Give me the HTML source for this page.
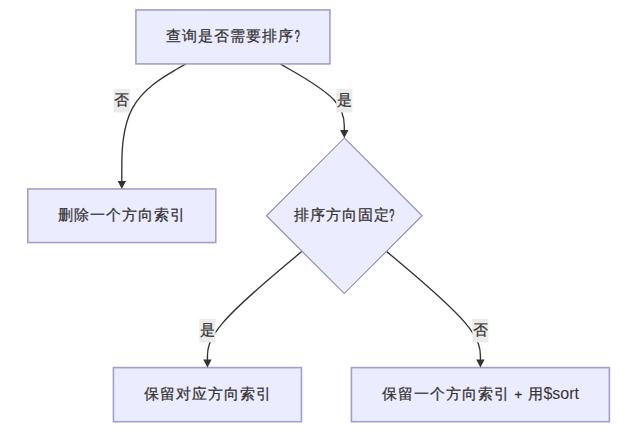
<!DOCTYPE html>
<html><head><meta charset="utf-8">
<style>
html,body{margin:0;padding:0;background:#fff;width:624px;height:434px;overflow:hidden}
svg{display:block}
.nd{fill:#ECECFF;stroke:#a39fc8;stroke-width:1.6}
.dm{stroke:#928cb9;stroke-width:1.15}
.ed{fill:none;stroke:#333;stroke-width:1.35}
.ar{fill:#333;stroke:none}
.lb{fill:#ebebeb}
.tx{font-family:"Liberation Sans",sans-serif;font-size:15.40px;fill:#333;stroke:#333;stroke-width:0.25}
.q{font-size:16.2px;stroke-width:0.5}
.pl{font-size:13px;text-anchor:middle;stroke-width:0.35}
.lt{font-size:16px;stroke-width:0}
.lbt{text-anchor:middle}
</style></head><body>
<svg width="624" height="434" viewBox="0 0 624 434">
<path d="M185.88,63.90 L175.20,70.03 C164.52,76.17 143.16,88.43 132.48,108.10 C121.80,127.77 121.80,154.83 121.80,168.37 L121.80,181.90" class="ed"/>
<path d="M280.12,63.90 L290.82,70.02 C301.51,76.13 322.91,88.37 333.60,99.53 C344.30,110.70 344.30,120.80 344.30,125.85 L344.30,130.90" class="ed"/>
<path d="M302.00,251.25 L286.24,264.47 C270.48,277.70 238.97,304.15 223.21,322.37 C207.45,340.60 207.45,350.60 207.45,355.60 L207.45,360.60" class="ed"/>
<path d="M386.49,251.36 L402.14,264.56 C417.80,277.77 449.10,304.19 464.75,322.39 C480.40,340.60 480.40,350.60 480.40,355.60 L480.40,360.60" class="ed"/>
<rect x="135.90" y="9.90" width="194.00" height="54.00" class="nd"/>
<rect x="27.80" y="188.95" width="188.00" height="53.60" class="nd"/>
<path d="M344.30,137.95 L422.10,215.75 L344.30,293.55 L266.50,215.75 Z" class="nd dm"/>
<rect x="113.45" y="367.60" width="188.00" height="54.10" class="nd"/>
<rect x="351.40" y="367.60" width="258.00" height="54.10" class="nd"/>
<path d="M117.60,180.90 L126.00,180.90 L121.80,188.90 Z" class="ar"/>
<path d="M340.10,129.90 L348.50,129.90 L344.30,137.90 Z" class="ar"/>
<path d="M203.25,359.60 L211.65,359.60 L207.45,367.60 Z" class="ar"/>
<path d="M476.20,359.60 L484.60,359.60 L480.40,367.60 Z" class="ar"/>
<rect x="113.70" y="88.90" width="16.2" height="23.6" class="lb"/>
<rect x="336.20" y="88.80" width="16.2" height="23.6" class="lb"/>
<rect x="199.35" y="318.80" width="16.2" height="23.6" class="lb"/>
<rect x="472.30" y="318.80" width="16.2" height="23.6" class="lb"/>
<text x="165.70 181.70 197.70 213.70 229.70 245.70 261.70 277.70" y="40.60" class="tx">查询是否需要排序</text>
<text transform="translate(294.80,42.00) scale(0.560,1)" x="0" y="0" class="tx q">?</text>
<text x="58.10 74.10 90.10 106.10 122.10 138.10 154.10 170.10" y="219.70" class="tx">删除一个方向索引</text>
<text x="294.10 310.10 326.10 342.10 358.10 374.10" y="219.50" class="tx">排序方向固定</text>
<text transform="translate(389.20,220.90) scale(0.560,1)" x="0" y="0" class="tx q">?</text>
<text x="143.75 159.75 175.75 191.75 207.75 223.75 239.75 255.75" y="398.50" class="tx">保留对应方向索引</text>
<text x="381.75 397.75 413.75 429.75 445.75 461.75 477.75 493.75" y="398.50" class="tx">保留一个方向索引</text>
<text x="518.4" y="398.5" class="tx pl">+</text>
<text x="527.75" y="398.50" class="tx">用</text>
<text x="543.45" y="398.5" class="tx lt">$sort</text>
<text x="121.80" y="104.90" class="tx lbt">否</text>
<text x="344.30" y="104.80" class="tx lbt">是</text>
<text x="207.45" y="334.80" class="tx lbt">是</text>
<text x="480.40" y="334.80" class="tx lbt">否</text>
</svg>
</body></html>
